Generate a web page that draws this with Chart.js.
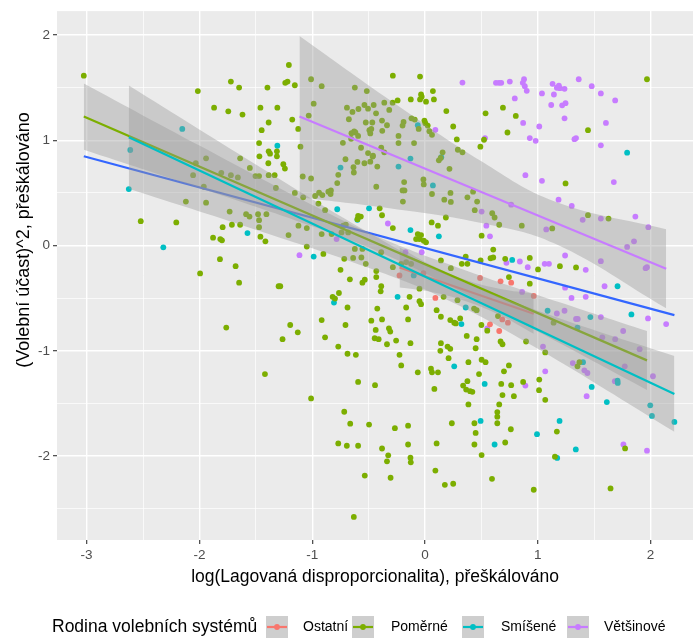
<!DOCTYPE html>
<html>
<head>
<meta charset="utf-8">
<script src="https://cdn.jsdelivr.net/npm/chart.js@4.4.1/dist/chart.umd.min.js"></script>
<style>
  html, body { margin: 0; padding: 0; background: #ffffff; }
  canvas { display: block; }
</style>
</head>
<body>
<canvas id="chart" width="697" height="639"></canvas>
<script>
// Electoral-system families and their colours
const groups = ['Ostatní', 'Poměrné', 'Smíšené', 'Většinové'];
const groupColors = ['#F8766D', '#7CAE00', '#00BFC4', '#C77CFF'];
const overallColor = '#3366FF';

// Axis ticks
const xTicks = [-3, -2, -1, 0, 1, 2];
const yTicks = [-2, -1, 0, 1, 2];
const xMinorTicks = [-2.5, -1.5, -0.5, 0.5, 1.5];
const yMinorTicks = [-2.5, -1.5, -0.5, 0.5, 1.5];

// Axis titles and legend title
const xTitle = 'log(Lagovaná disproporcionalita), přeškálováno';
const yTitle = '(Volební účast)^2, přeškálováno';
const legendTitle = 'Rodina volebních systémů';

// Observations: [log lagged disproportionality, turnout^2], both rescaled
const ostatniPts = [
  [-0.226,-0.283],[-0.014,-0.261],[0.092,-0.497],[0.488,-0.308],[0.67,-0.339],[0.764,-0.352],
  [0.964,-0.478],[0.576,-0.748],[0.735,-0.732],[0.685,-0.701],[0.658,-0.811]
];
const pomernePts = [
  [-3.025,1.614],[-2.014,1.467],[-1.721,1.558],[-1.648,1.501],[-1.397,1.501],[-1.870,1.31],[-1.744,1.275],
  [-1.618,1.244],[-1.459,1.31],[-1.309,1.31],[-1.386,1.169],[-1.448,1.096],[-1.471,0.974],[-1.386,0.895],
  [-1.374,0.873],[-1.313,0.895],[-1.468,0.848],[-1.389,0.782],[-2.032,0.782],[-1.941,0.829],[-1.639,0.829],
  [-1.553,0.738],[-2.056,0.669],[-1.806,0.691],[-1.721,0.669],[-1.659,0.647],[-1.503,0.66],[-1.471,0.66],
  [-1.386,0.669],[-1.333,0.669],[-1.961,0.559],[-1.322,0.547],[-2.12,0.418],[-1.941,0.408],
  [-2.52,0.232],[-2.205,0.22],[-1.732,0.323],[-1.586,0.298],[-1.556,0.276],[-1.48,0.298],[-1.406,0.298],
  [-1.471,0.241],[-1.794,0.175],[-1.712,0.198],[-1.639,0.198],[-1.471,0.175],[-1.879,0.075],[-1.815,0.062],
  [-1.8,0.05],[-1.459,0.085],[-1.415,0.041],[-1.818,-0.129],[-1.679,-0.195],[-1.994,-0.264],[-1.648,-0.352],
  [-1.298,-0.386],[-1.762,-0.779],[-1.419,-1.22],
  [-1.207,1.715],[-1.239,1.546],[-1.219,1.558],[-1.154,1.523],[-1.01,1.58],[-0.916,1.514],[-1.177,1.197],
  [-1.124,1.108],[-1.031,1.235],[-0.987,1.348],[-1.104,0.939],[-1.313,0.848],[-1.256,0.773],[-1.242,0.731],
  [-1.084,0.656],[-1.01,0.637],[-1.154,0.5],[-1.08,0.458],[-0.974,0.471],[-0.939,0.502],[-0.91,0.48],
  [-0.857,0.512],[-0.834,0.524],[-0.837,0.49],[-0.769,0.672],[-0.778,0.594],[-0.705,0.82],[-0.634,0.745],
  [-0.631,0.694],[-0.599,0.795],[-0.537,0.782],[-0.485,0.797],[-0.505,0.879],[-0.461,0.854],[-0.423,0.75],
  [-0.432,0.559],[-0.728,0.976],[-0.567,0.929],[-0.655,1.014],[-0.617,1.074],[-0.628,1.084],[-0.652,1.068],
  [-0.593,1.042],[-0.675,1.2],[-0.643,1.269],[-0.59,1.297],[-0.692,1.31],[-0.622,1.501],[-0.516,1.467],
  [-0.537,1.335],[-0.505,1.3],[-0.455,1.335],[-0.434,1.256],[-0.525,1.169],[-0.467,1.169],[-0.493,1.096],
  [-0.485,1.065],[-0.476,1.108],[-0.381,1.187],[-0.337,1.143],[-0.379,1.09],[-0.317,1.288],[-0.361,1.357],
  [-0.287,1.357],[-0.243,1.379],[-0.285,1.614],[-0.044,1.605],[-0.035,1.435],[-0.029,1.414],[0.009,1.367],
  [-0.044,1.388],[0.07,1.467],[0.079,1.388],[-0.126,1.388],[0.189,1.278],[-0.19,1.174],[-0.199,1.14],
  [-0.12,1.209],[-0.091,1.197],[-0.056,1.108],[-0.005,1.187],[0.003,1.162],[0.024,1.14],[0.039,1.087],
  [0.062,1.052],[0.25,1.131],[-0.235,1.042],[-0.235,0.974],[-0.097,0.974],[-0.388,0.929],[-0.361,0.886],
  [-0.464,0.845],[0.282,1.008],[0.291,0.91],[0.332,0.886],[0.491,0.939],[0.523,1.005],[0.537,1.256],
  [0.156,0.886],[0.139,0.832],[0.123,0.81],[0.217,0.729],[-0.014,0.628],[-0.011,0.581],[-0.185,0.603],
  [-0.182,0.524],[-0.199,0.524],[0.062,0.49],[0.171,0.436],[0.226,0.5],[0.376,0.458],[0.426,0.512],
  [-0.196,0.418],[0.462,0.418],
  [-0.945,0.399],[-0.886,0.336],[-0.593,0.283],[-0.569,0.276],[-0.599,0.251],[-0.402,0.354],[-0.381,0.288],
  [0.229,0.415],[0.185,0.267],[0.059,0.22],[0.115,0.189],[0.441,0.336],[-0.285,0.166],[-0.064,0.109],
  [-0.035,0.1],[-0.049,0.062],[-0.011,0.047],[0.009,0.031],[-0.079,0.062],[0.502,0.094],[-1.122,0.189],
  [-1.048,0.166],[-1.21,0.1],[-0.916,0.109],[-0.828,0.109],[-0.725,0.189],[-0.74,0.125],[-0.681,0.125],
  [-0.702,0.198],[-1.048,-0.009],[-0.901,-0.079],[-0.622,-0.032],[-0.555,-0.032],[-0.637,-0.117],
  [-0.564,-0.113],[-0.525,-0.173],[-0.716,-0.126],[-0.749,-0.23],[-0.432,-0.242],[-0.432,-0.299],
  [-0.388,-0.063],[-0.285,-0.205],[-0.211,-0.173],[-0.167,-0.157],[-0.123,-0.173],[-0.666,-0.32],
  [-0.555,-0.352],[-0.534,-0.324],[-0.388,-0.386],[-0.393,-0.434],[-1.283,-0.386],[-0.819,-0.487],
  [-0.798,-0.503],[-0.763,-0.45],[-0.687,-0.588],[-0.423,-0.598],[-0.137,-0.487],[-0.167,-0.588],
  [-0.049,-0.528],[-0.035,-0.556],[-0.916,-0.707],[-0.705,-0.754],[-0.476,-0.713],[-0.381,-0.701],
  [-0.15,-0.701],[0.141,-0.141],[0.229,-0.214],[0.361,-0.104],[0.376,-0.173],[0.326,-0.173],[0.493,-0.141],
  [-0.049,-0.409],[0.165,-0.487],[0.288,-0.518],[0.435,-0.598],[0.458,-0.613],[0.103,-0.613],[0.141,-0.676],
  [0.224,-0.707],[0.259,-0.732],[0.312,-0.692],[0.273,-0.739],[0.5,-0.754],[-1.195,-0.754],[-1.128,-0.824],
  [-1.263,-0.889],[-0.886,-0.871],[-0.437,-0.801],[-0.446,-0.88],[-0.411,-0.889],[-0.32,-0.786],
  [-0.308,-0.817],[-0.256,-0.902],[-0.337,-0.937],[-0.129,-0.927],[-0.769,-0.959],[-0.687,-1.027],
  [-0.613,-1.037],[-0.226,-1.037],[-0.211,-1.138],[0.37,-0.858],[0.458,-0.889],[0.449,-0.975],
  [0.502,-1.084],[0.385,-1.107],[0.141,-0.927],[0.2,-0.959],[0.224,-0.98],[0.136,-0.999],[0.209,-1.069],
  [-0.064,-1.204],[0.053,-1.169],[0.062,-1.204],[0.115,-1.204],[0.479,-1.22],[-0.593,-1.295],
  [-0.443,-1.326],[0.338,-1.329],[0.376,-1.288],
  [-1.01,-1.451],[0.083,-1.361],[0.365,-1.367],[0.4,-1.383],[0.42,-1.389],[0.385,-1.508],[-0.716,-1.578],
  [-0.663,-1.691],[-0.496,-1.7],[-0.267,-1.734],[-0.15,-1.71],[0.238,-1.687],[0.438,-1.687],[0.449,-1.779],
  [0.438,-1.889],[-0.769,-1.879],[-0.693,-1.901],[-0.593,-1.901],[-0.381,-1.927],[-0.326,-1.992],
  [-0.337,-2.049],[-0.15,-1.889],[-0.129,-2.014],[-0.126,-2.058],[0.103,-1.879],[0.092,-2.137],
  [0.176,-2.272],[0.25,-2.262],[0.502,-1.989],[-0.534,-2.184],[-0.305,-2.205],[-0.631,-2.577],
  [0.691,1.31],[0.805,1.231],[0.731,1.074],[1.445,1.096],[1.246,0.59],[1.968,1.58],
  [0.596,0.307],[0.617,0.267],[0.658,0.198],[0.858,0.189],[1.128,0.163],[1.445,0.289],[1.627,0.257],
  [0.605,-0.038],[0.581,-0.12],[0.605,-0.113],[0.711,-0.126],[0.929,-0.117],[1.002,-0.226],[1.196,-0.195],
  [1.339,-0.207],[0.744,-0.299],[0.929,-0.362],[0.647,-0.669],[0.552,-0.808],[0.67,-0.911],[0.687,-0.937],
  [0.896,-0.911],[1.066,-1.015],[1.14,-0.732],[0.537,-1.107],[0.744,-1.138],[0.7,-1.194],[1.369,-1.107],
  [1.352,-1.147],[0.676,-1.314],[0.764,-1.326],[0.87,-1.295],[1.013,-1.272],[1.011,-1.373],
  [1.066,-1.465],[0.687,-1.42],[0.788,-1.43],[0.658,-1.508],[0.641,-1.581],[0.641,-1.625],[0.641,-1.687],
  [0.761,-1.744],[1.169,-1.766],[0.711,-1.87],[1.152,-2.005],[1.774,-1.926],[0.594,-2.215],[0.964,-2.319],
  [1.645,-2.306]
];
const smisenePts = [
  [-2.152,1.108],[-1.309,0.948],[-2.613,0.908],[-2.626,0.537],[-1.574,0.119],[-2.32,-0.016],[-0.064,1.143],
  [-0.129,0.826],[-0.235,0.75],[0.144,0.839],[0.07,0.571],[-0.749,0.741],[-0.778,0.345],[-0.599,0.245],
  [-0.496,0.354],[-0.129,0.147],[0.123,0.088],[-0.987,-0.104],[-0.807,-0.541],[-0.243,-0.487],[-0.1,-0.283],
  [0.361,-0.588],[0.323,-0.745],[0.259,-1.147],[0.529,-1.314],[0.493,-1.665],[1.792,0.882],[0.773,-0.136],
  [1.707,-0.386],[1.087,-0.619],[1.466,-0.679],[1.83,-0.654],[1.352,-0.779],[1.401,-1.107],[1.707,-1.282],
  [1.709,-1.304],[1.478,-1.342],[1.612,-1.486],[1.997,-1.517],[2.012,-1.618],[2.211,-1.675],[1.193,-1.665],
  [0.993,-1.791],[0.617,-1.889],[1.337,-1.936],[1.172,-2.017]
];
const vetsinovePts = [
  [-0.329,0.21],[-0.784,0.062],[-1.113,-0.091],[-0.173,-0.063],[-0.029,-0.063],[0.502,0.323],[0.092,1.099],
  [0.332,1.548],[0.629,1.546],[0.656,1.546],[0.676,1.546],[0.752,1.558],[0.878,1.58],[0.867,1.546],
  [0.885,1.514],[0.902,1.47],[0.796,1.398],[1.037,1.445],[1.131,1.536],[1.187,1.52],[1.196,1.495],
  [1.237,1.489],[1.169,1.499],[1.363,1.58],[1.143,1.435],[1.119,1.335],[1.216,1.332],[1.246,1.353],
  [1.478,1.514],[1.559,1.445],[1.686,1.379],[1.237,1.209],[0.87,1.165],[1.013,1.131],[1.604,1.165],
  [0.929,1.021],[0.981,0.995],[1.325,1.011],[1.339,1.021],[0.532,1.021],[1.559,0.952],[0.89,0.669],
  [1.037,0.615],[1.674,0.603],[1.184,0.436],[1.301,0.377],[1.398,0.245],[1.559,0.257],[1.865,0.276],
  [1.98,0.175],[0.544,0.189],[0.576,0.088],[0.764,0.389],[1.075,0.154],[1.853,0.041],[1.792,-0.013],
  [1.242,-0.094],[1.559,-0.148],[1.968,-0.205],[1.956,-0.214],[0.722,-0.164],[0.841,-0.151],[0.911,-0.205],
  [1.061,-0.173],[1.099,-0.173],[1.425,-0.23],[1.592,-0.386],[1.242,-0.4],[1.299,-0.497],[1.425,-0.487],
  [0.861,-0.44],[1.169,-0.645],[1.237,-0.619],[1.339,-0.697],[1.354,-0.697],[1.559,-0.679],[1.977,-0.692],
  [2.138,-0.745],[1.757,-0.811],[1.572,-0.871],[1.686,-0.889],[1.903,-0.984],[1.046,-0.959],[0.552,-0.786],
  [1.31,-1.116],[1.413,-1.185],[1.44,-1.21],[1.066,-1.194],[1.771,-1.147],[2.021,-1.241],[1.683,-1.288],
  [0.89,-1.329],[1.433,-1.43],[1.759,-1.889],[1.968,-1.948]
];

// Linear fits: end points of each regression line
const fitOverallX = [-3.025, 2.211];
const fitOverallY = [0.848, -0.66];
const fitOstatniX = [-0.226, 0.964];
const fitOstatniY = [-0.208, -0.647];
const fitPomerneX = [-3.025, 1.968];
const fitPomerneY = [1.225, -1.09];
const fitSmiseneX = [-2.626, 2.211];
const fitSmiseneY = [1.03, -1.41];
const fitVetsinoveX = [-1.113, 2.138];
const fitVetsinoveY = [1.225, -0.22];

// 95% confidence bands around each group fit
const bandOstatniX = [-0.226, 0.07, 0.37, 0.67, 0.964];
const bandOstatniHi = [-0.018, -0.192, -0.33, -0.413, -0.457];
const bandOstatniLo = [-0.398, -0.442, -0.53, -0.663, -0.837];
const bandPomerneX = [-3.025, -2, -1, -0.37, 0.5, 1.2, 1.968];
const bandPomerneHi = [1.54, 0.95, 0.386, 0.063, -0.288, -0.541, -0.812];
const bandPomerneLo = [0.91, 0.548, 0.184, -0.077, -0.534, -0.931, -1.372];
const bandSmiseneX = [-2.626, -1.5, -0.5, 0.2, 1.0, 2.211];
const bandSmiseneHi = [1.52, 0.771, 0.125, -0.276, -0.618, -1.049];
const bandSmiseneLo = [0.54, 0.151, -0.211, -0.516, -0.98, -1.769];
const bandVetsinoveX = [-1.113, -0.3, 0.5, 1.15, 2.138];
const bandVetsinoveHi = [1.99, 1.373, 0.80, 0.419, 0.155];
const bandVetsinoveLo = [0.46, 0.353, 0.215, 0.019, -0.595];

const FONT = "'Liberation Sans', Arial, Helvetica, sans-serif";
const BAND_FILL = 'rgba(153,153,153,0.4)';
const CLEAR = 'rgba(0,0,0,0)';

const toXY = (xs, ys) => xs.map((x, i) => ({ x, y: ys[i] }));
const toPts = (pairs) => pairs.map(p => ({ x: p[0], y: p[1] }));

const datasets = [];
function addPoints(pairs, color) {
  datasets.push({
    type: 'scatter', data: toPts(pairs), order: 20,
    pointRadius: 2.9, pointBorderWidth: 0, pointBackgroundColor: color,
    backgroundColor: color, borderColor: color, showLine: false
  });
}
function addLine(xs, ys, color, order) {
  datasets.push({
    type: 'line', data: toXY(xs, ys), order, showLine: true,
    borderColor: color, borderWidth: 2.2, pointRadius: 0, fill: false, tension: 0
  });
}
function addBand(xs, hi, lo, order) {
  const loIndex = datasets.length;
  datasets.push({
    type: 'line', data: toXY(xs, lo), order, showLine: true,
    borderColor: CLEAR, borderWidth: 1, pointRadius: 0, fill: false, tension: 0.4
  });
  datasets.push({
    type: 'line', data: toXY(xs, hi), order, showLine: true,
    borderColor: CLEAR, borderWidth: 1, pointRadius: 0, tension: 0.4,
    fill: { target: loIndex }, backgroundColor: BAND_FILL
  });
}

addPoints(ostatniPts, groupColors[0]);
addPoints(pomernePts, groupColors[1]);
addPoints(smisenePts, groupColors[2]);
addPoints(vetsinovePts, groupColors[3]);
addLine(fitOverallX, fitOverallY, overallColor, 19);
addBand(bandOstatniX, bandOstatniHi, bandOstatniLo, 18);
addLine(fitOstatniX, fitOstatniY, groupColors[0], 17);
addBand(bandPomerneX, bandPomerneHi, bandPomerneLo, 16);
addLine(fitPomerneX, fitPomerneY, groupColors[1], 15);
addBand(bandSmiseneX, bandSmiseneHi, bandSmiseneLo, 14);
addLine(fitSmiseneX, fitSmiseneY, groupColors[2], 13);
addBand(bandVetsinoveX, bandVetsinoveHi, bandVetsinoveLo, 12);
addLine(fitVetsinoveX, fitVetsinoveY, groupColors[3], 11);

const isMajor = (v, majors) => majors.some(m => Math.abs(m - v) < 1e-9);

// grey panel behind the plotting area
const panelBackground = {
  id: 'panelBackground',
  beforeDraw(chart) {
    const { ctx, chartArea: a } = chart;
    ctx.save();
    ctx.fillStyle = '#FFFFFF';
    ctx.fillRect(0, 0, chart.width, chart.height);
    ctx.fillStyle = '#EBEBEB';
    ctx.fillRect(a.left, a.top, a.right - a.left, a.bottom - a.top);
    ctx.restore();
  }
};

// rotated y-axis title, set a little above the panel centre
const yAxisTitle = {
  id: 'yAxisTitle',
  afterDraw(chart) {
    const ctx = chart.ctx;
    ctx.save();
    ctx.translate(24, 240);
    ctx.rotate(-Math.PI / 2);
    ctx.textAlign = 'center';
    ctx.textBaseline = 'middle';
    ctx.fillStyle = '#000000';
    ctx.font = '18px ' + FONT;
    ctx.fillText(yTitle, 0, 0);
    ctx.restore();
  }
};

// legend row: title, then a key (band + line + point) and label per group
const legendKeyX = [266, 352, 462, 567];
const legendLabelX = [303, 391, 501, 604];
const groupLegend = {
  id: 'groupLegend',
  afterDraw(chart) {
    const ctx = chart.ctx;
    const cy = 627;
    ctx.save();
    ctx.textBaseline = 'middle';
    ctx.textAlign = 'left';
    ctx.fillStyle = '#000000';
    ctx.font = '17.5px ' + FONT;
    ctx.fillText(legendTitle, 52, cy);
    groups.forEach((name, i) => {
      const kx = legendKeyX[i], size = 22;
      ctx.fillStyle = '#F2F2F2';
      ctx.fillRect(kx, cy - size / 2, size, size);
      ctx.fillStyle = BAND_FILL;
      ctx.fillRect(kx, cy - size / 2, size, size);
      ctx.strokeStyle = groupColors[i];
      ctx.lineWidth = 2.2;
      ctx.beginPath();
      ctx.moveTo(kx + 1, cy);
      ctx.lineTo(kx + size - 1, cy);
      ctx.stroke();
      ctx.fillStyle = groupColors[i];
      ctx.beginPath();
      ctx.arc(kx + size / 2, cy, 2.9, 0, Math.PI * 2);
      ctx.fill();
      ctx.fillStyle = '#000000';
      ctx.font = '14px ' + FONT;
      ctx.fillText(name, legendLabelX[i], cy);
    });
    ctx.restore();
  }
};

function axisOptions(majors, minors, min, max, title, fitFn) {
  return {
    type: 'linear', min, max,
    afterBuildTicks(scale) {
      scale.ticks = majors.concat(minors).sort((a, b) => a - b).map(v => ({ value: v }));
    },
    afterFit: fitFn,
    border: { display: false },
    grid: {
      drawOnChartArea: true,
      color: '#FFFFFF',
      lineWidth: ctx => isMajor(ctx.tick.value, majors) ? 1.4 : 0.7,
      tickColor: ctx => isMajor(ctx.tick.value, majors) ? '#333333' : CLEAR,
      tickLength: 4,
      tickWidth: 1.1
    },
    ticks: {
      autoSkip: false, maxRotation: 0, padding: 3,
      color: '#4D4D4D',
      font: { family: FONT, size: 13.5 },
      callback: v => isMajor(v, majors) ? String(v) : ''
    },
    title: title
  };
}

new Chart(document.getElementById('chart'), {
  type: 'scatter',
  data: { datasets },
  options: {
    responsive: false,
    animation: false,
    events: [],
    layout: { padding: { top: 7, right: 0, bottom: 0, left: 0 } },
    plugins: { legend: { display: false }, tooltip: { enabled: false } },
    scales: {
      x: axisOptions(xTicks, xMinorTicks, -3.2626, 2.376, {
          display: true, text: xTitle, color: '#000000',
          font: { family: FONT, size: 17.5 }, padding: { top: 0, bottom: 51 }
        }, s => { s.height = 99; }),
      y: axisOptions(yTicks, yMinorTicks, -2.796, 2.227, { display: false },
        s => { s.width = 57; })
    }
  },
  plugins: [panelBackground, yAxisTitle, groupLegend]
});
</script>
</body>
</html>
